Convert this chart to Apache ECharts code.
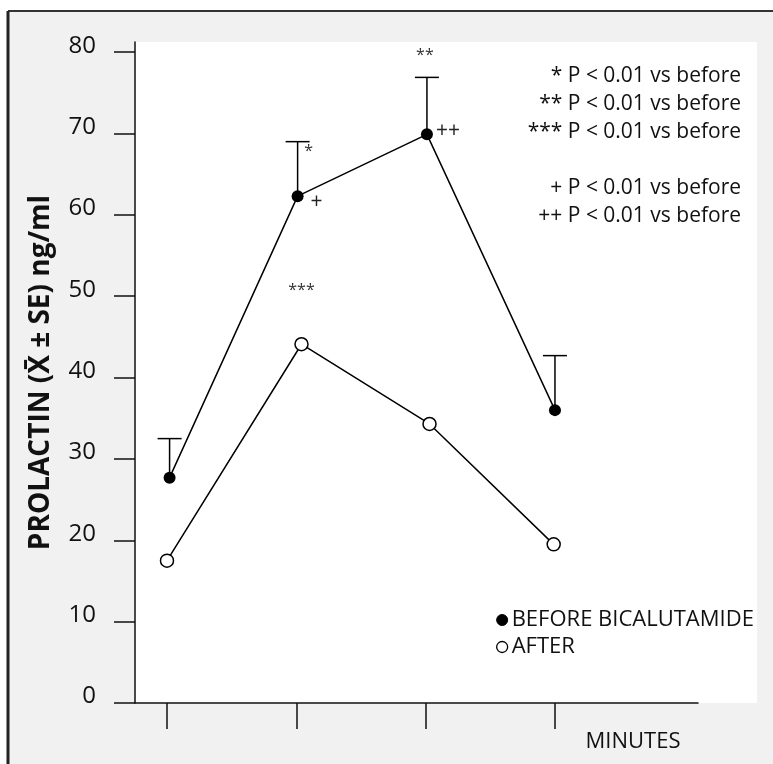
<!DOCTYPE html>
<html>
<head>
<meta charset="utf-8">
<script src="https://cdn.jsdelivr.net/npm/echarts@6/dist/echarts.min.js"></script>
<style>
html,body{margin:0;padding:0;background:#fff;}
#chart{width:773px;height:764px;}
</style>
</head>
<body>
<div id="chart"></div>
<script>
// ---- data ----
const timePoints = [1, 2, 3, 4];
const beforeX = [1.02, 2.01, 3.01, 4.0];
const beforeY = [27.7, 62.3, 69.9, 36.0];
const beforeUpper = [32.5, 69.0, 76.9, 42.7];
const afterX = [1.0, 2.04, 3.03, 3.99];
const afterY = [17.5, 44.1, 34.3, 19.5];
const yTickValues = [0, 10, 20, 30, 40, 50, 60, 70, 80];
const beforePointMarks = ['', '+', '++', ''];
const beforeBarMarks = ['', '*', '**', ''];
const afterPointMarks = ['', '***', '', ''];
const noteLines = [
  '* P < 0.01 vs before',
  '** P < 0.01 vs before',
  '*** P < 0.01 vs before',
  '',
  '+ P < 0.01 vs before',
  '++ P < 0.01 vs before'
];
const seriesNames = ['BEFORE BICALUTAMIDE', 'AFTER'];
const yTitle = 'PROLACTIN (X\u0304 \u00B1 SE) ng/ml';
const xTitle = 'MINUTES';

// ---- styles ----
const FONT = '"Open Sans", "Noto Sans", sans-serif';
const starFont = {fontFamily: FONT, fontSize: 16, color: '#333'};
const plusFont = {fontFamily: FONT, fontSize: 21, color: '#222'};
const pointMarkOffsets = {'+': [19, 6], '++': [21, -3]};
const barMarkOffsets = {'*': [11, 10], '**': [-2, -22]};
const afterMarkOffsets = {'***': [0, -54]};

const chart = echarts.init(document.getElementById('chart'), null, {renderer: 'canvas'});

const beforeData = beforeX.map((x, i) => {
  const m = beforePointMarks[i];
  const item = {value: [x, beforeY[i]]};
  if (m) {
    item.label = Object.assign({show: true, formatter: m, position: 'inside', offset: pointMarkOffsets[m]}, plusFont);
  }
  return item;
});
const afterData = afterX.map((x, i) => {
  const m = afterPointMarks[i];
  const item = {value: [x, afterY[i]]};
  if (m) {
    item.label = Object.assign({show: true, formatter: m, position: 'inside', offset: afterMarkOffsets[m]}, starFont);
  }
  return item;
});
const errData = beforeX.map((x, i) => [x, beforeY[i], beforeUpper[i], i]);

option = {
  backgroundColor: '#ffffff',
  animation: false,
  textStyle: {fontFamily: FONT},
  grid: {left: 135, right: 75, top: 42, bottom: 61, show: false},
  xAxis: {
    type: 'value', min: 0.7526, max: 5.106,
    axisLine: {show: true, lineStyle: {color: '#111', width: 1.5}},
    axisTick: {show: true, inside: false, length: 26, lineStyle: {color: '#111', width: 1.5}, customValues: timePoints},
    axisLabel: {show: false, customValues: timePoints},
    splitLine: {show: false}
  },
  yAxis: {
    type: 'value', min: 0, max: 81.25,
    axisLine: {show: true, lineStyle: {color: '#111', width: 1.5}},
    axisTick: {show: true, inside: false, length: 21, lineStyle: {color: '#111', width: 1.5}, customValues: yTickValues},
    axisLabel: {show: true, customValues: yTickValues, margin: 39, fontSize: 24, color: '#111', fontFamily: FONT, verticalAlign: 'bottom', lineHeight: 13},
    splitLine: {show: false},
    name: yTitle,
    nameLocation: 'middle',
    nameGap: 80,
    nameTextStyle: {fontSize: 28, fontWeight: 'bold', color: '#111', fontFamily: FONT}
  },
  legend: {
    orient: 'vertical', left: 491, top: 604, itemGap: 5,
    itemWidth: 11, itemHeight: 11, icon: 'circle',
    textStyle: {fontSize: 22, color: '#111', fontFamily: FONT, padding: [0, 0, 0, -1]},
    data: [
      {name: seriesNames[0], itemStyle: {color: '#000', borderColor: '#000', borderWidth: 1}},
      {name: seriesNames[1], itemStyle: {color: '#fff', borderColor: '#000', borderWidth: 1.3}}
    ]
  },
  graphic: [
    {type: 'rect', z: -20, shape: {x: 8, y: 11, width: 800, height: 800}, style: {fill: '#f1f1f1', stroke: null}},
    {type: 'line', z: -15, shape: {x1: 8, y1: 11, x2: 780, y2: 11}, style: {stroke: '#333', lineWidth: 2}},
    {type: 'line', z: -15, shape: {x1: 8, y1: 11, x2: 8, y2: 780}, style: {stroke: '#222', lineWidth: 3}},
    {type: 'rect', z: -10, shape: {x: 135, y: 42, width: 622, height: 661}, style: {fill: '#ffffff', stroke: null}},
    {type: 'text', z: 10, style: {text: noteLines.join('\n'), x: 741, y: 62, align: 'right', verticalAlign: 'top', font: '21px ' + FONT, lineHeight: 28, fill: '#111'}},
    {type: 'text', z: 10, style: {text: xTitle, x: 633, y: 742, align: 'center', verticalAlign: 'middle', font: '22px ' + FONT, fill: '#111'}}
  ],
  series: [
    {
      name: seriesNames[0], type: 'line', data: beforeData, z: 5,
      symbol: 'circle', symbolSize: 12,
      lineStyle: {color: '#000', width: 1.5},
      itemStyle: {color: '#000', borderColor: '#000', borderWidth: 0}
    },
    {
      name: seriesNames[1], type: 'line', data: afterData, z: 5,
      symbol: 'circle', symbolSize: 13,
      lineStyle: {color: '#000', width: 1.5},
      itemStyle: {color: '#fff', borderColor: '#000', borderWidth: 1.5}
    },
    {
      name: 'SE', type: 'custom', z: 4, data: errData,
      encode: {x: 0, y: [1, 2]},
      renderItem: function (params, api) {
        const x = api.value(0);
        const p0 = api.coord([x, api.value(1)]);
        const p1 = api.coord([x, api.value(2)]);
        const idx = api.value(3);
        const children = [
          {type: 'line', shape: {x1: p0[0], y1: p0[1], x2: p1[0], y2: p1[1]}, style: {stroke: '#000', lineWidth: 1.5}},
          {type: 'line', shape: {x1: p1[0] - 12, y1: p1[1], x2: p1[0] + 12, y2: p1[1]}, style: {stroke: '#000', lineWidth: 1.5}}
        ];
        const m = beforeBarMarks[idx];
        if (m) {
          const off = barMarkOffsets[m];
          children.push({type: 'text', style: {text: m, x: p1[0] + off[0], y: p1[1] + off[1], align: 'center', verticalAlign: 'middle', font: '16px ' + FONT, fill: '#333'}});
        }
        return {type: 'group', children: children};
      }
    }
  ]
};
chart.setOption(option);
</script>
</body>
</html>
